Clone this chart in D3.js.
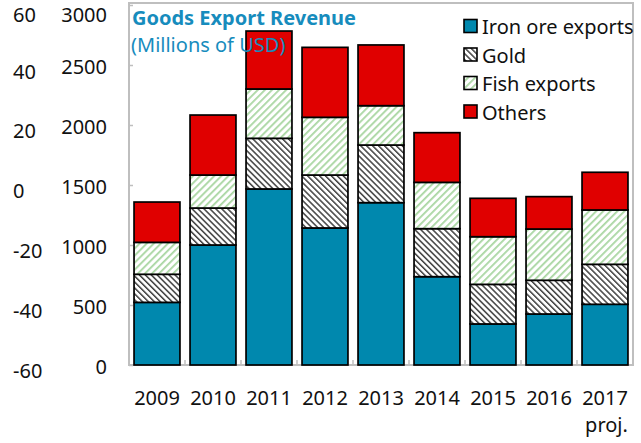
<!DOCTYPE html>
<html>
<head>
<meta charset="utf-8">
<script src="https://cdn.jsdelivr.net/npm/d3@7"></script>
<style>
  html, body { margin: 0; padding: 0; background: #fff; }
  svg { display: block; font-family: "Noto Sans", "Open Sans", sans-serif; }
</style>
</head>
<body>
<svg id="chart" width="641" height="443"></svg>
<script>
// ---- data ----
const years = ["2009","2010","2011","2012","2013","2014","2015","2016","2017"];
const ironOre = [522, 1000, 1467, 1142, 1353, 736, 342, 425, 506];
const gold    = [234,  308,  422,  441,  480, 400, 330, 281, 333];
const fish    = [266,  275,  411,  481,  328, 386, 397, 427, 453];
const others  = [336,  500,  483,  583,  506, 414, 320, 270, 314];
const seriesNames = ["Iron ore exports", "Gold", "Fish exports", "Others"];
const leftTicks = [0, 500, 1000, 1500, 2000, 2500, 3000];
const outerTicks = [-60, -40, -20, 0, 20, 40, 60];
const titleText = "Goods Export Revenue";
const subtitleText = "(Millions of USD)";
const projText = "proj.";

// ---- setup ----
const svg = d3.select("#chart");
const defs = svg.append("defs");

const gp = defs.append("pattern").attr("id", "pGold").attr("patternUnits", "userSpaceOnUse")
  .attr("width", 4.2).attr("height", 4.2).attr("patternTransform", "rotate(-45)");
gp.append("rect").attr("width", 4.2).attr("height", 4.2).attr("fill", "#fff");
gp.append("rect").attr("width", 1.5).attr("height", 4.2).attr("fill", "#404040");

const fp = defs.append("pattern").attr("id", "pFish").attr("patternUnits", "userSpaceOnUse")
  .attr("width", 5).attr("height", 5).attr("patternTransform", "rotate(45)");
fp.append("rect").attr("width", 5).attr("height", 5).attr("fill", "#fff");
fp.append("rect").attr("width", 1.8).attr("height", 5).attr("fill", "#a9d6a2");

const fills = ["#0088ae", "url(#pGold)", "url(#pFish)", "#e00000"];

const rows = years.map((yr, i) => ({
  year: yr, s0: ironOre[i], s1: gold[i], s2: fish[i], s3: others[i]
}));
const stack = d3.stack().keys(["s0", "s1", "s2", "s3"]);
const stacked = stack(rows);

const x = d3.scaleBand().domain(years).range([129, 633]).paddingInner(0.18).paddingOuter(0.09);
const y = d3.scaleLinear().domain([0, 3000]).range([365, 5]);
const y2 = d3.scaleLinear().domain([-60, 60]).range([370, 11]);
const fmt = d => String(d);

// frame
svg.append("rect").attr("x", 129).attr("y", 3).attr("width", 504).attr("height", y(0) - 3)
  .attr("fill", "none").attr("stroke", "#bfbfbf").attr("stroke-width", 2);

// left axis ticks (inward)
const yAxis = d3.axisLeft(y).tickValues(leftTicks).tickFormat(fmt)
  .tickSizeInner(-4).tickSizeOuter(0).tickPadding(22);
const gy = svg.append("g").attr("transform", "translate(129,0)").call(yAxis);
gy.select(".domain").remove();
gy.selectAll(".tick line").attr("stroke", "#bfbfbf").attr("stroke-width", 1.5);
gy.selectAll(".tick text").attr("font-size", 20).attr("fill", "#111")
  .attr("dy", d => d === 3000 ? "0.8em" : "0.42em")
  .attr("font-family", "Noto Sans");

// outer axis labels
const y2Axis = d3.axisLeft(y2).tickValues(outerTicks).tickFormat(fmt).tickSize(0).tickPadding(0);
const gy2 = svg.append("g").attr("transform", "translate(13,0)").call(y2Axis);
gy2.select(".domain").remove();
gy2.selectAll(".tick text").attr("text-anchor", "start").attr("font-size", 20).attr("fill", "#111")
  .attr("dy", d => d === 60 ? "0.5em" : "0.36em").attr("font-family", "Noto Sans");

// bottom tick marks between categories
const step = x.step();
const boundaries = years.slice(1).map(yr => x(yr) - (step - x.bandwidth()) / 2);
svg.append("g").selectAll("line").data(boundaries).join("line")
  .attr("x1", d => d).attr("x2", d => d).attr("y1", y(0)).attr("y2", y(0) - 5)
  .attr("stroke", "#bfbfbf").attr("stroke-width", 1.5);

// bars
svg.append("g").selectAll("g").data(stacked).join("g")
  .attr("fill", (d, i) => fills[i])
  .selectAll("rect").data(d => d).join("rect")
  .attr("x", d => x(d.data.year))
  .attr("width", x.bandwidth())
  .attr("y", d => y(d[1]))
  .attr("height", d => y(d[0]) - y(d[1]))
  .attr("stroke", "#000").attr("stroke-width", 1.7);

// x axis labels
const xAxis = d3.axisBottom(x).tickSize(0).tickPadding(0);
const gx = svg.append("g").attr("transform", "translate(0,390)").call(xAxis);
gx.select(".domain").remove();
gx.selectAll(".tick text").attr("font-size", 20).attr("fill", "#111").attr("dy", "0.75em")
  .attr("font-family", "Noto Sans");
// "proj." under last year, right aligned
const lastText = gx.selectAll(".tick text").filter(d => d === years[years.length - 1]);
const lastW = lastText.node().getComputedTextLength();
svg.append("text").attr("x", x(years[years.length - 1]) + x.bandwidth() / 2 + lastW / 2)
  .attr("y", 432).attr("text-anchor", "end").attr("font-size", 20).attr("fill", "#111")
  .text(projText);

// title
svg.append("text").attr("x", 132).attr("y", 25).attr("font-size", 20).attr("font-weight", "bold")
  .attr("fill", "#178cbd").text(titleText);
svg.append("text").attr("x", 131).attr("y", 52).attr("font-size", 20)
  .attr("fill", "#178cbd").text(subtitleText);

// legend
const lg = svg.append("g");
const legY = [26, 54.5, 83, 111.5];
seriesNames.forEach((name, i) => {
  lg.append("rect").attr("x", 464).attr("y", legY[i] - 6.5).attr("width", 13).attr("height", 13)
    .attr("fill", fills[i]).attr("stroke", "#000").attr("stroke-width", 1.6);
  lg.append("text").attr("x", 482).attr("y", legY[i] + 8).attr("font-size", 20).attr("fill", "#111")
    .text(name);
});
</script>
</body>
</html>
